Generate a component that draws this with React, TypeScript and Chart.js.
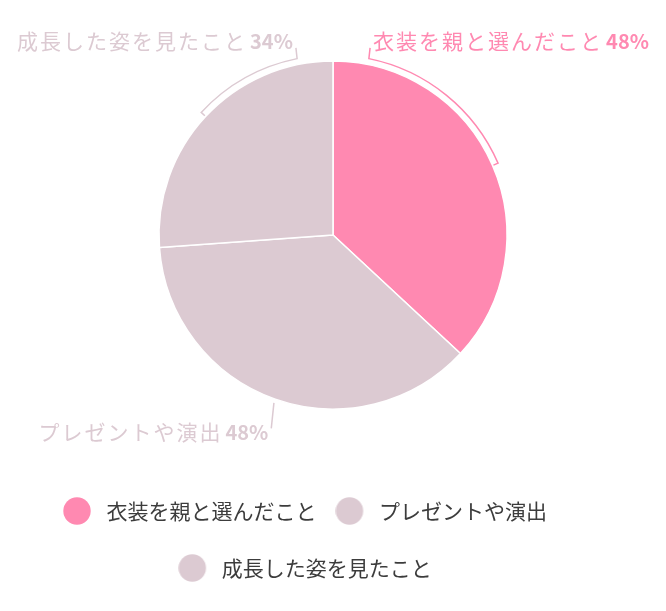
import React, { useEffect, useRef } from 'react';
import { Chart, registerables } from 'chart.js';

Chart.register(...registerables);

const categories = ['衣装を親と選んだこと', 'プレゼントや演出', '成長した姿を見たこと'];
const values = [48, 48, 34];
const colors = ['#ff89b1', '#dccad2', '#dccad2'];

const FONT = '"Noto Sans CJK JP", "Noto Sans", sans-serif';
const TILT = (11.5 * Math.PI) / 180;

// legend dot drawn off-centre so the gap to the text is wider than Chart.js gives
function legendDot(color: string): HTMLCanvasElement {
  const c = document.createElement('canvas');
  c.width = 50;
  c.height = 28;
  const g = c.getContext('2d')!;
  g.fillStyle = color;
  g.beginPath();
  g.arc(14, 14, 13.7, 0, Math.PI * 2);
  g.fill();
  return c;
}

const bracketLabels = {
  id: 'bracketLabels',
  afterDatasetsDraw(chart: Chart) {
    const ctx = chart.ctx;
    const meta = chart.getDatasetMeta(0);
    meta.data.forEach((el: any, i: number) => {
      const { x, y, startAngle, endAngle, outerRadius } = el.getProps(
        ['x', 'y', 'startAngle', 'endAngle', 'outerRadius'],
        true
      );
      const color = colors[i];
      const R = outerRadius + 6;
      const mid = (startAngle + endAngle) / 2 + Math.PI / 2; // from top, clockwise
      const upper = Math.cos(mid) > 0;
      const right = Math.sin(mid) > 0;
      let anchor = mid;
      if (upper) anchor = right ? TILT : 2 * Math.PI - TILT;
      const at = (t: number, r: number): [number, number] => [x + Math.sin(t) * r, y - Math.cos(t) * r];

      ctx.save();
      ctx.strokeStyle = color;
      ctx.lineWidth = 1.5;
      ctx.beginPath();
      if (anchor !== mid) {
        ctx.moveTo(...at(mid, R - 5));
        ctx.lineTo(...at(mid, R));
        ctx.arc(x, y, R, mid - Math.PI / 2, anchor - Math.PI / 2, anchor < mid);
      } else {
        ctx.moveTo(...at(mid, R - 2));
      }
      const [px, py] = at(anchor, R);
      const ex = px + Math.sin(anchor) * 6;
      const ey = py - Math.cos(anchor) * (upper ? 11 : 25);
      ctx.lineTo(ex, ey);
      ctx.stroke();

      const name = categories[i];
      const val = `${values[i]}%`;
      ctx.fillStyle = color;
      ctx.textBaseline = 'alphabetic';
      ctx.textAlign = 'left';
      ctx.font = `400 21px ${FONT}`;
      (ctx as any).letterSpacing = '2px';
      const nameW = ctx.measureText(name).width;
      ctx.font = `700 20px ${FONT}`;
      (ctx as any).letterSpacing = '0px';
      const valW = ctx.measureText(val).width;
      const gap = 3;
      const total = nameW + gap + valW;
      const left = right ? ex + 3 : ex - 3 - total;
      const base = upper ? ey + 1 : ey + 12;

      ctx.font = `400 21px ${FONT}`;
      (ctx as any).letterSpacing = '2px';
      ctx.fillText(name, left, base);
      ctx.font = `700 20px ${FONT}`;
      (ctx as any).letterSpacing = '0px';
      ctx.fillText(val, left + nameW + gap, base);
      ctx.restore();
    });
  },
};

const legendShift = {
  id: 'legendShift',
  afterLayout(chart: Chart) {
    if (chart.legend) chart.legend.right -= 39;
  },
};

const App: React.FC = () => {
  const canvasRef = useRef<HTMLCanvasElement | null>(null);
  const chartRef = useRef<Chart | null>(null);

  useEffect(() => {
    const ctx = canvasRef.current?.getContext('2d');
    if (!ctx) return;
    if (chartRef.current) chartRef.current.destroy();

    const dots = colors.map(legendDot);
    Chart.defaults.font.family = FONT;

    chartRef.current = new Chart(ctx, {
      type: 'pie',
      data: {
        labels: categories,
        datasets: [
          {
            data: values,
            backgroundColor: colors,
            borderColor: '#fff',
            borderWidth: 1.5,
            hoverBorderWidth: 1.5,
          },
        ],
      },
      options: {
        responsive: true,
        maintainAspectRatio: false,
        animation: false,
        layout: { padding: { top: 52.25, bottom: 14.5 } },
        plugins: {
          tooltip: { enabled: false },
          legend: {
            position: 'bottom',
            title: {
              display: true,
              text: '',
              font: { size: 10, lineHeight: 1 },
              padding: { top: 0, bottom: 44.75 },
            },
            labels: {
              usePointStyle: true,
              boxWidth: 16,
              boxHeight: 16,
              padding: 36,
              color: '#3c3c3c',
              font: { family: FONT, size: 21 },
              generateLabels: (c: Chart) =>
                categories.map((text, i) => ({
                  text,
                  fillStyle: colors[i],
                  strokeStyle: colors[i],
                  lineWidth: 0,
                  pointStyle: dots[i],
                  fontColor: '#3c3c3c',
                  hidden: !c.getDataVisibility(i),
                  index: i,
                })),
            },
          },
        },
      } as any,
      plugins: [bracketLabels, legendShift],
    });

    return () => {
      if (chartRef.current) {
        chartRef.current.destroy();
        chartRef.current = null;
      }
    };
  }, []);

  return (
    <div style={{ position: 'relative', width: 650, height: 595 }}>
      <canvas ref={canvasRef} />
    </div>
  );
};

export default App;
